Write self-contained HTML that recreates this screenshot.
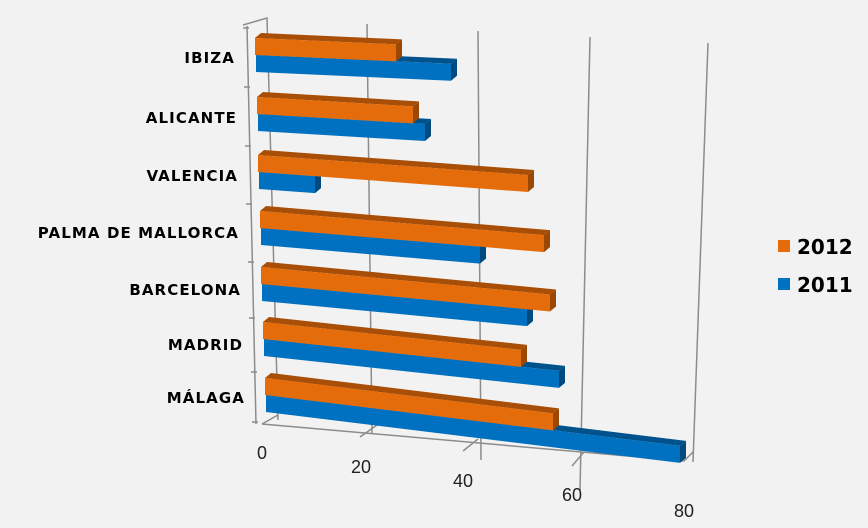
<!DOCTYPE html>
<html><head><meta charset="utf-8"><style>
html,body{margin:0;padding:0;background:#f2f2f2;}
svg{display:block;font-family:"Liberation Sans",Arial,sans-serif;}
</style></head><body>
<svg id="c" width="868" height="528" viewBox="0 0 868 528" xmlns="http://www.w3.org/2000/svg">
<rect width="868" height="528" fill="#f2f2f2"/>
<g stroke="#8c8c8c" stroke-width="1.5" fill="none">
<line x1="367" y1="24" x2="372" y2="434"/>
<line x1="478" y1="31" x2="481" y2="460"/>
<line x1="590" y1="37" x2="580" y2="490"/>
<line x1="708" y1="43" x2="693" y2="462"/>
<polyline points="243,25 267,18 278,420"/>
<line x1="247" y1="26" x2="256" y2="424"/>
<polyline points="262,424 684,461 693,452"/>
<line x1="262" y1="424" x2="278" y2="415"/>
<line x1="360" y1="437" x2="377" y2="425"/>
<line x1="463" y1="451" x2="478" y2="439"/>
<line x1="572" y1="466" x2="584" y2="452"/>
<line x1="243" y1="28" x2="249" y2="28"/>
<line x1="244" y1="87" x2="250" y2="87"/>
<line x1="245" y1="146" x2="251" y2="146"/>
<line x1="246" y1="204" x2="252" y2="204"/>
<line x1="248" y1="262" x2="254" y2="262"/>
<line x1="249" y1="318" x2="255" y2="318"/>
<line x1="251" y1="372" x2="257" y2="372"/>
<line x1="252" y1="422" x2="258" y2="422"/>
</g>
<g id="bars"></g>
<g font-size="15" font-weight="bold" fill="#000" text-anchor="end" style="font-family:'DejaVu Sans',sans-serif" letter-spacing="1.1">
<text x="235" y="63">IBIZA</text>
<text x="237" y="123">ALICANTE</text>
<text x="238" y="181">VALENCIA</text>
<text x="239" y="238">PALMA DE MALLORCA</text>
<text x="241" y="295">BARCELONA</text>
<text x="243" y="350">MADRID</text>
<text x="245" y="403">MÁLAGA</text>
</g>
<g font-size="18" fill="#222" text-anchor="middle">
<text x="262" y="459">0</text>
<text x="361" y="473">20</text>
<text x="463" y="487">40</text>
<text x="572" y="501">60</text>
<text x="684" y="517">80</text>
</g>
<g font-size="20" font-weight="bold" style="font-family:'DejaVu Sans',sans-serif">
<rect x="778" y="240" width="12" height="12" fill="#e46c0a"/>
<text x="797" y="254">2012</text>
<rect x="778" y="278" width="12" height="12" fill="#0070c0"/>
<text x="797" y="292">2011</text>
</g>
</svg>
<script>
var rows=[[255,38,0.045,396,451],[257,97,0.06,413,425],[258,155,0.074,528,315],[260,211,0.085,544,480],[261,267,0.095,550,527],[263,322,0.108,521,559],[265,378,0.123,553,680]];
var g=document.getElementById('bars'),h='';
function bar(x,y,r,s,f,t,sd){var L=r-x,d=L*s,w=6,u=5;
h+='<polygon fill="'+t+'" points="'+x+','+y+' '+(x+w)+','+(y-u)+' '+(r+w)+','+(y+d-u)+' '+r+','+(y+d)+'"/>';
h+='<polygon fill="'+sd+'" points="'+r+','+(y+d)+' '+(r+w)+','+(y+d-u)+' '+(r+w)+','+(y+d+17-u)+' '+r+','+(y+d+17)+'"/>';
h+='<polygon fill="'+f+'" points="'+x+','+y+' '+r+','+(y+d)+' '+r+','+(y+d+17)+' '+x+','+(y+17)+'"/>';}
rows.forEach(function(q){bar(q[0]+1,q[1]+17,q[4],q[2],'#0070c0','#00528c','#004a80');bar(q[0],q[1],q[3],q[2],'#e46c0a','#a84e06','#9c4805');});
g.innerHTML=h;
</script>
</body></html>
